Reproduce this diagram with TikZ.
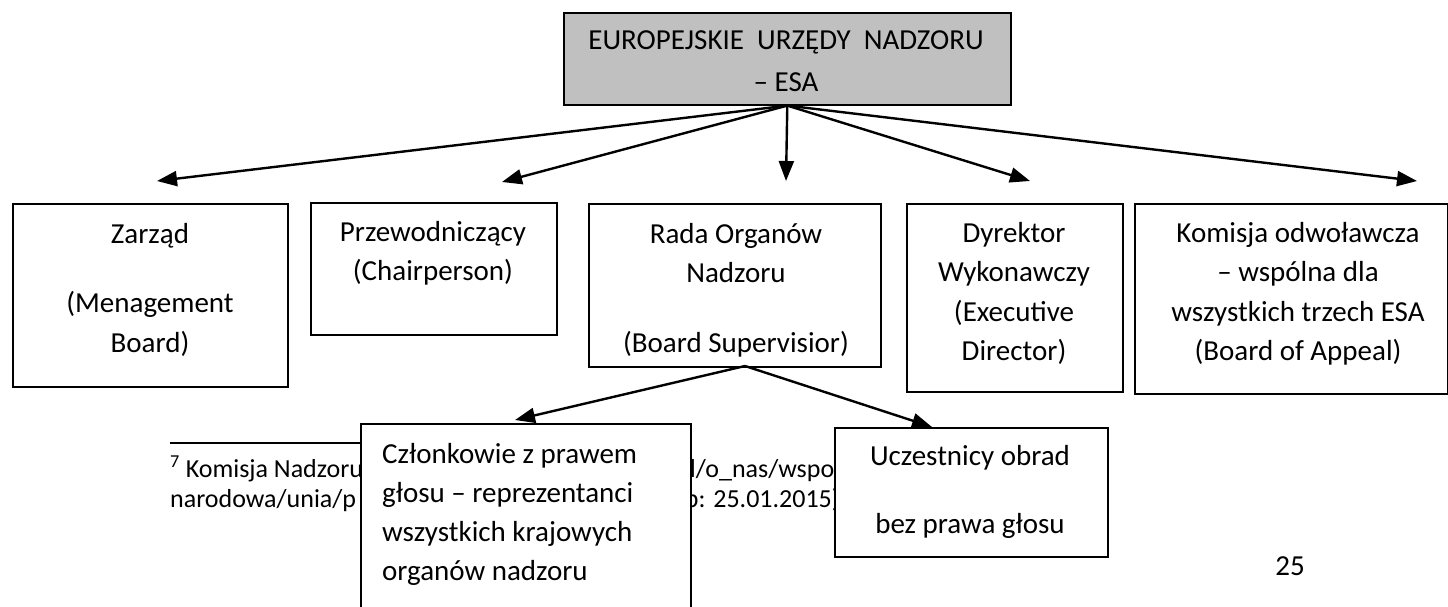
\documentclass[tikz,border=0pt]{standalone}
\usepackage{fontspec}
\setmainfont{Carlito}
\usetikzlibrary{arrows.meta}
\begin{document}
\begin{tikzpicture}[x=1pt,y=-1pt,
  box/.style={draw, line width=1.6pt, fill=white, inner sep=0pt, anchor=north west},
  txt/.style={font=\fontsize{29}{35}\selectfont, inner sep=0pt, anchor=base},
  fn/.style={font=\fontsize{26}{31}\selectfont, inner sep=0pt},
  arr/.style={line width=2.4pt, -{Triangle[length=20pt,width=15pt]}}]
\useasboundingbox (0,0) rectangle (1448,607);
\clip (0,0) rectangle (1448,607);
% footnote (partly hidden behind boxes)
\draw[line width=1.6pt] (170,443) -- (380,443);
\node[fn, anchor=base west] (fn1) at (170,477) {\textsuperscript{7} Komisja Nadzoru F};
\node[fn, anchor=base west] (fn2) at (676,477) {pl/o\_nas/wspol};
\node[fn, anchor=base west] (fn3) at (170,507) {narodowa/unia/p};
\node[fn, anchor=base east] (fn4) at (840,507) {p: 25.01.2015)};
% top box
\node[box, fill={rgb,255:red,192;green,192;blue,192}, minimum width=447pt, minimum height=92pt] (esa) at (563,12) {};
\node[txt] (esa1) at (786,50) {EUROPEJSKIE\ \ URZĘDY\ \ NADZORU};
\node[txt] (esa2) at (786,92) {– ESA};
% second row
\node[box, minimum width=275pt, minimum height=183pt] (zar) at (12,203) {};
\node[txt] (zar1) at (150,243) {Zarząd};
\node[txt] (zar2) at (150,312) {(Menagement};
\node[txt] (zar3) at (150,352) {Board)};
\node[box, minimum width=246pt, minimum height=132pt] (prz) at (310,202) {};
\node[txt] (prz1) at (433,241) {Przewodniczący};
\node[txt] (prz2) at (433,280) {(Chairperson)};
\node[box, minimum width=292pt, minimum height=163pt] (rada) at (588,203) {};
\node[txt] (rada1) at (736,243) {Rada Organów};
\node[txt] (rada2) at (736,282) {Nadzoru};
\node[txt] (rada3) at (736,352) {(Board Supervisior)};
\node[box, minimum width=216pt, minimum height=188pt] (dyr) at (906,203) {};
\node[txt] (dyr1) at (1014,242) {Dyrektor};
\node[txt] (dyr2) at (1014,281) {Wykonawczy};
\node[txt] (dyr3) at (1014,321) {(Executive};
\node[txt] (dyr4) at (1014,360) {Director)};
\node[box, minimum width=313pt, minimum height=190pt] (kom) at (1134,203) {};
\node[txt] (kom1) at (1298,242) {Komisja odwoławcza};
\node[txt] (kom2) at (1298,281) {– wspólna dla};
\node[txt] (kom3) at (1298,321) {wszystkich trzech ESA};
\node[txt] (kom4) at (1298,360) {(Board of Appeal)};
% third row
\node[box, minimum width=330pt, minimum height=200pt] (czl) at (360,423) {};
\node[txt, anchor=base west] (czl1) at (382,463) {Członkowie z prawem};
\node[txt, anchor=base west] (czl2) at (382,502) {głosu – reprezentanci};
\node[txt, anchor=base west] (czl3) at (382,541) {wszystkich krajowych};
\node[txt, anchor=base west] (czl4) at (382,580) {organów nadzoru};
\node[box, minimum width=273pt, minimum height=129pt] (ucz) at (834,427) {};
\node[txt] (ucz1) at (970,465) {Uczestnicy obrad};
\node[txt] (ucz2) at (970,533) {bez prawa głosu};
% page number
\node[txt] (page) at (1290,575) {25};
% arrows
\coordinate (tzar) at (157,181);
\coordinate (tprz) at (502,182);
\coordinate (trada) at (786,181);
\coordinate (tdyr) at (1030,181);
\coordinate (tkom) at (1417,181);
\coordinate (rout) at (745,366);
\coordinate (tczl) at (515,420);
\coordinate (tucz) at (932,427);
\draw[arr] (esa.south) -- (tzar);
\draw[arr] (esa.south) -- (tprz);
\draw[arr] (esa.south) -- (trada);
\draw[arr] (esa.south) -- (tdyr);
\draw[arr] (esa.south) -- (tkom);
\draw[arr] (rout) -- (tczl);
\draw[arr] (rout) -- (tucz);
\end{tikzpicture}
\end{document}
